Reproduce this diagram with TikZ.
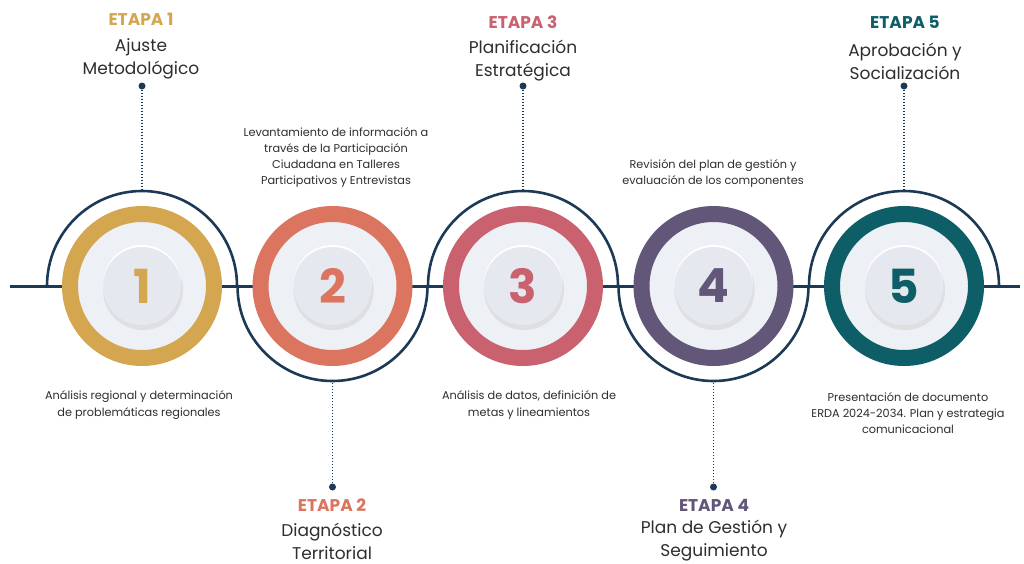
\documentclass[tikz,border=0pt]{standalone}
\usepackage{fontspec}
\setmainfont{Poppins}
\usepackage{tikz}
\usetikzlibrary{positioning,calc}

\definecolor{etapaA}{HTML}{D4A650}
\definecolor{etapaB}{HTML}{DB7560}
\definecolor{etapaC}{HTML}{C9616F}
\definecolor{etapaD}{HTML}{625679}
\definecolor{etapaE}{HTML}{0E5E68}
\definecolor{linea}{HTML}{1C3A56}
\definecolor{plato}{HTML}{EDF0F4}
\definecolor{platoin}{HTML}{E5E9EF}
\definecolor{texto}{HTML}{2E2E2E}

\begin{document}
\begin{tikzpicture}[x=1pt,y=1pt,node distance=190.5pt,
	main node/.style={circle,draw=#1,line width=16pt,fill=plato,minimum size=144pt,inner sep=0pt,text=#1,
		font=\bfseries\fontsize{47}{47}\selectfont,
		path picture={
			\fill[gray!40,opacity=.45] ([xshift=1pt,yshift=-4pt]path picture bounding box.center) circle (40pt);
			\fill[white] ([yshift=2pt]path picture bounding box.center) circle (39pt);
			\fill[platoin] (path picture bounding box.center) circle (39pt);
		}},
	arco/.style={draw=linea,line width=2.6pt},
	punto/.style={circle,fill=linea,inner sep=0pt,minimum size=7pt},
	puntos/.style={draw=linea,line width=1.6pt,dash pattern=on 1.6pt off 1.4pt},
	etapa/.style={text=#1,font=\bfseries\fontsize{17}{20}\selectfont},
	titulo/.style={text=texto,align=center,font=\fontsize{17}{23}\selectfont},
	detalle/.style={text=texto,align=center,font=\fontsize{11.3}{16.3}\selectfont}]
	
	\useasboundingbox (0,0) rectangle (1024,-563);
	\fill[white] (0,0) rectangle (1024,-563);
	
	% linea base
	\coordinate (ini) at (10,-286);
	\coordinate (fin) at (1020,-286);
	\draw[draw=linea,line width=3pt] (ini) -- (fin);
	
	% circulos
	\node[main node=etapaA] (1) at (142,-286) {1};
	\node[main node=etapaB] (2) [right of = 1] {2};
	\node[main node=etapaC] (3) [right of = 2] {3};
	\node[main node=etapaD] (4) [right of = 3] {4};
	\node[main node=etapaE] (5) [right of = 4] {5};
	
	% arcos
	\draw[arco] (1.center) ++(180:95) arc[start angle=180,end angle=0,radius=95];
	\draw[arco] (2.center) ++(180:95) arc[start angle=180,end angle=360,radius=95];
	\draw[arco] (3.center) ++(180:95) arc[start angle=180,end angle=0,radius=95];
	\draw[arco] (4.center) ++(180:95) arc[start angle=180,end angle=360,radius=95];
	\draw[arco] (5.center) ++(180:95) arc[start angle=180,end angle=0,radius=95];
	
	\coordinate (t1) at ($(1)+(0,95)$);
	\coordinate (t2) at ($(2)+(0,-95)$);
	\coordinate (t3) at ($(3)+(0,95)$);
	\coordinate (t4) at ($(4)+(0,-95)$);
	\coordinate (t5) at ($(5)+(0,95)$);
	
	% puntos
	\node[punto] (p1) at ($(1)+(0,200)$) {};
	\node[punto] (p2) at ($(2)+(0,-201)$) {};
	\node[punto] (p3) at ($(3)+(0,200)$) {};
	\node[punto] (p4) at ($(4)+(0,-201)$) {};
	\node[punto] (p5) at ($(5)+(0,200)$) {};
	
	\draw[puntos] (p1) -- (t1);
	\draw[puntos] (p2) -- (t2);
	\draw[puntos] (p3) -- (t3);
	\draw[puntos] (p4) -- (t4);
	\draw[puntos] (p5) -- (t5);
	
	% etapas
	\node[etapa=etapaA] (e1) at (141,-19) {ETAPA 1};
	\node[titulo] (m1) at (141,-59) {Ajuste\\Metodológico};
	\node[etapa=etapaB] (e2) at (332,-505) {ETAPA 2};
	\node[titulo] (m2) at (332,-541) {Diagnóstico\\Territorial};
	\node[etapa=etapaC] (e3) at (523,-22) {ETAPA 3};
	\node[titulo] (m3) at (523,-61) {Planificación\\Estratégica};
	\node[etapa=etapaD] (e4) at (714,-505) {ETAPA 4};
	\node[titulo] (m4) at (714,-541) {Plan de Gestión y\\Seguimiento};
	\node[etapa=etapaE] (e5) at (905,-22) {ETAPA 5};
	\node[titulo] (m5) at (905,-61) {Aprobación y\\Socialización};
	
	% detalles
	\node[detalle] (d1) at (139,-405) {Análisis regional y determinación\\de problemáticas regionales};
	\node[detalle] (d2) at (336,-157.5) {Levantamiento de información a\\través de la Participación\\Ciudadana en Talleres\\Participativos y Entrevistas};
	\node[detalle] (d3) at (529,-405) {Análisis de datos, definición de\\metas y lineamientos};
	\node[detalle] (d4) at (713,-173.5) {Revisión del plan de gestión y\\evaluación de los componentes};
	\node[detalle] (d5) at (908,-413) {Presentación de documento\\ERDA 2024-2034. Plan y estrategia\\comunicacional};
	
\end{tikzpicture}
\end{document}
